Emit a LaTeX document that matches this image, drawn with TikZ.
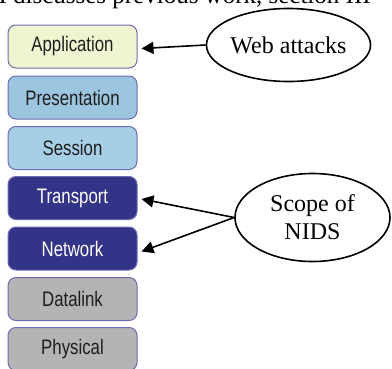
\documentclass[tikz,border=0pt]{standalone}
\usepackage{fontspec}
\setmainfont{Liberation Serif}
\newfontfamily\layerfont{Liberation Sans}
\usetikzlibrary{shapes.geometric,arrows.meta}
\definecolor{appfill}{HTML}{EEF5D0}
\definecolor{presfill}{HTML}{9CC5E0}
\definecolor{sessfill}{HTML}{A6CEE4}
\definecolor{darkfill}{HTML}{333388}
\definecolor{grayfill}{HTML}{B4B4B4}
\definecolor{layerborder}{HTML}{6B6BB0}
\definecolor{layertext}{HTML}{1E1E1E}
\newcommand{\laylabel}[1]{\scalebox{0.8}[1]{#1}}
\tikzset{
  layer/.style={draw=layerborder, line width=1pt, rounded corners=8pt,
    minimum width=129pt, minimum height=43pt, inner sep=0pt,
    font=\layerfont\fontsize{21}{24}\selectfont, text=layertext},
  darklayer/.style={layer, fill=darkfill, text=white},
  cloud/.style={ellipse, draw=black, line width=1.6pt, inner sep=0pt,
    font=\fontsize{24}{28}\selectfont, align=center},
  pointer/.style={line width=1.6pt, -{Triangle[length=12pt,width=12pt]}}
}
\begin{document}
\begin{tikzpicture}[x=1pt,y=-1pt]
\useasboundingbox (0,0) rectangle (392,368);
\clip (0,0) rectangle (392,368);
% running text of the page above the figure
\node[anchor=base west, inner sep=0pt, font=\fontsize{25}{28}\selectfont]
  (runtext) at (-10,3) {II discusses previous work, section III};
% protocol stack
\node[layer, fill=appfill]   (app)  at (72.5,46.5)  {\laylabel{Application}};
\node[layer, fill=presfill]  (pres) at (72.5,97.5)  {\laylabel{Presentation}};
\node[layer, fill=sessfill]  (sess) at (72.5,148)   {\laylabel{Session}};
\node[darklayer]             (trans) at (72.5,198)  {\laylabel{Transport}};
\node[darklayer]             (net)  at (72.5,248.5) {\laylabel{Network}};
\node[layer, fill=grayfill]  (dl)   at (72.5,299)   {\laylabel{Datalink}};
\node[layer, fill=grayfill]  (phy)  at (72.5,349)   {\laylabel{Physical}};
% threat annotations
\node[cloud, minimum width=164pt, minimum height=73pt] (web) at (288.5,45) {Web attacks};
\node[cloud, minimum width=155pt, minimum height=88pt] (nids) at (312.5,217.5) {Scope of\\NIDS};
\draw[pointer] (web.west) -- ([xshift=4pt,yshift=-2pt]app.east);
\draw[pointer] (nids.west) -- ([xshift=4pt,yshift=-1pt]trans.east);
\draw[pointer] (nids.west) -- ([xshift=4pt,yshift=-3pt]net.east);
\end{tikzpicture}
\end{document}
